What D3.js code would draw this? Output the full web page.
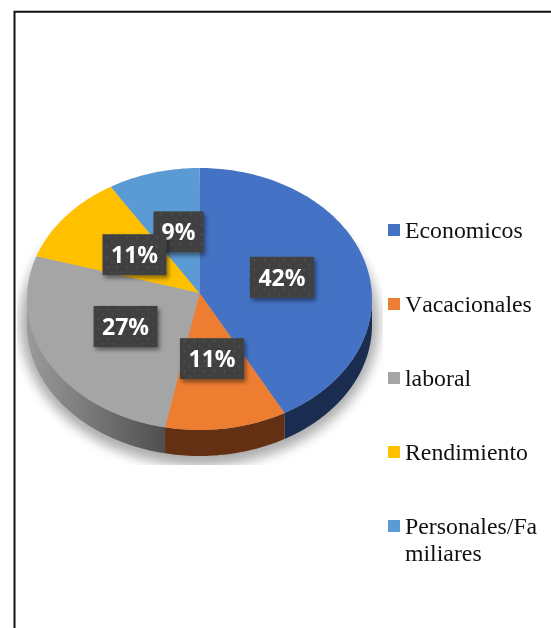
<!DOCTYPE html>
<html>
<head>
<meta charset="utf-8">
<script src="https://cdnjs.cloudflare.com/ajax/libs/d3/7.8.5/d3.min.js"></script>
<style>
  html, body { margin: 0; padding: 0; background: #fff; overflow: hidden; }
</style>
</head>
<body>
<div id="chart"></div>
<script>
const width = 551;
const height = 628;

const categories = ["Economicos", "Vacacionales", "laboral", "Rendimiento", "Personales/Fa|miliares"];
// the labels round these to 42, 11, 27, 11, 9
const values = [41.8, 11.4, 27.1, 11.1, 8.6];
const colors = ["#4472c4", "#ed7d31", "#a5a5a5", "#ffc000", "#5b9bd5"];
const sideColors = ["#1a2d50", "#633013", "url(#graySide)", "#806000", "#2f5070"];

// pie sits in perspective: apex is a little above the ellipse centre
const cx = 199.5, cy = 299, apexY = 293;
const rx = 172.5, ry = 131, depth = 26;

const svg = d3.select("#chart").append("svg")
    .attr("width", width)
    .attr("height", height);

const defs = svg.append("defs");

defs.append("filter").attr("id", "soft")
    .attr("x", "-20%").attr("y", "-20%").attr("width", "140%").attr("height", "140%")
    .append("feGaussianBlur").attr("stdDeviation", 6);

const boxShadow = defs.append("filter").attr("id", "boxShadow")
    .attr("x", "-20%").attr("y", "-20%").attr("width", "150%").attr("height", "150%");
boxShadow.append("feDropShadow")
    .attr("dx", 2).attr("dy", 3).attr("stdDeviation", 2)
    .attr("flood-color", "#000").attr("flood-opacity", 0.45);

defs.append("clipPath").attr("id", "shadowClip")
    .append("rect").attr("x", 17).attr("y", 160).attr("width", 366).attr("height", 305);

const graySide = defs.append("linearGradient").attr("id", "graySide")
    .attr("gradientUnits", "userSpaceOnUse")
    .attr("x1", 30).attr("x2", 165).attr("y1", 0).attr("y2", 0);
graySide.append("stop").attr("offset", 0).attr("stop-color", "#999999");
graySide.append("stop").attr("offset", 1).attr("stop-color", "#4f4f4f");

const dots = defs.append("pattern").attr("id", "dots")
    .attr("patternUnits", "userSpaceOnUse")
    .attr("width", 10).attr("height", 10);
dots.append("rect").attr("width", 10).attr("height", 10).attr("fill", "#404040");
dots.append("circle").attr("cx", 2.5).attr("cy", 2.5).attr("r", 1).attr("fill", "#555555");
dots.append("circle").attr("cx", 7.5).attr("cy", 7.5).attr("r", 1).attr("fill", "#4d4d4d");

// page frame, only top and left edges show
svg.append("path")
    .attr("d", `M14.5,${height}V11.7H${width}`)
    .attr("fill", "none")
    .attr("stroke", "#111")
    .attr("stroke-width", 2);

// the reference is a resized picture, everything but the frame is a bit soft
const plot = svg.append("g").style("filter", "blur(0.4px)");

// soft shadow under the pie
plot.append("g").attr("clip-path", "url(#shadowClip)")
    .append("ellipse")
    .attr("cx", cx)
    .attr("cy", cy + 24)
    .attr("rx", rx + 7)
    .attr("ry", ry + 12)
    .attr("fill", "#000")
    .attr("opacity", 0.32)
    .attr("filter", "url(#soft)");

const slices = d3.pie().sort(null).value(d => d)(values);

function edgePoint(a, drop) {
    return [cx + rx * Math.sin(a), cy - ry * Math.cos(a) + drop];
}
function sampleAngles(a0, a1) {
    const n = Math.max(2, Math.ceil((a1 - a0) / 0.02));
    return d3.range(n + 1).map(i => a0 + (a1 - a0) * i / n);
}
const line = d3.line();

// side wall, only the front half of the rim is visible
plot.append("g").selectAll("path")
    .data(slices.filter(d => d.endAngle > Math.PI / 2 && d.startAngle < Math.PI * 1.5))
    .enter()
    .append("path")
    .attr("fill", d => sideColors[d.index])
    .attr("d", d => {
        const angles = sampleAngles(Math.max(d.startAngle, Math.PI / 2), Math.min(d.endAngle, Math.PI * 1.5));
        const upper = angles.map(a => edgePoint(a, 0));
        const lower = angles.slice().reverse().map(a => edgePoint(a, depth));
        return line(upper.concat(lower)) + "Z";
    });

// top face
plot.append("g").selectAll("path")
    .data(slices)
    .enter()
    .append("path")
    .attr("fill", d => colors[d.index])
    .attr("d", d => {
        const rim = sampleAngles(d.startAngle, d.endAngle).map(a => edgePoint(a, 0));
        return line([[cx, apexY]].concat(rim)) + "Z";
    });

// data labels: box size follows the text, small nudges
const labelNudge = [[-1, 1], [-1, 1], [1, 1], [2, 3], [2, 2]];
const labelOrder = [0, 1, 2, 4, 3];
const labels = plot.append("g").selectAll("g")
    .data(labelOrder.map(i => slices[i]))
    .enter()
    .append("g")
    .attr("transform", d => {
        const mid = (d.startAngle + d.endAngle) / 2;
        const nudge = labelNudge[d.index];
        const x = cx + 0.5 * rx * Math.sin(mid) + nudge[0];
        const y = apexY - 0.5 * ry * Math.cos(mid) + nudge[1];
        return `translate(${x},${y})`;
    });

labels.append("rect")
    .attr("x", d => d.value < 10 ? -25 : -32)
    .attr("y", -20.5)
    .attr("width", d => d.value < 10 ? 50 : 64)
    .attr("height", 41)
    .attr("fill", "url(#dots)")
    .attr("filter", "url(#boxShadow)");

labels.append("text")
    .attr("text-anchor", "middle")
    .attr("y", 8.5)
    .attr("fill", "#fff")
    .attr("font-family", "'Open Sans', sans-serif")
    .attr("font-weight", 700)
    .attr("font-size", 23)
    .text(d => Math.round(d.value) + "%");

// legend
const legendY = d3.scalePoint().domain(categories).range([224, 520]);
const legend = plot.append("g").selectAll("g")
    .data(categories)
    .enter()
    .append("g")
    .attr("transform", d => `translate(388,${legendY(d)})`);

legend.append("rect")
    .attr("width", 12)
    .attr("height", 12)
    .attr("fill", (d, i) => colors[i]);

legend.append("text")
    .attr("font-family", "'Liberation Serif', serif")
    .attr("font-size", 23.8)
    .attr("fill", "#111")
    .style("font-kerning", "none")
    .selectAll("tspan")
    .data(d => d.split("|"))
    .enter()
    .append("tspan")
    .attr("x", 17)
    .attr("y", (d, i) => 13.5 + i * 27)
    .text(d => d);
</script>
</body>
</html>
